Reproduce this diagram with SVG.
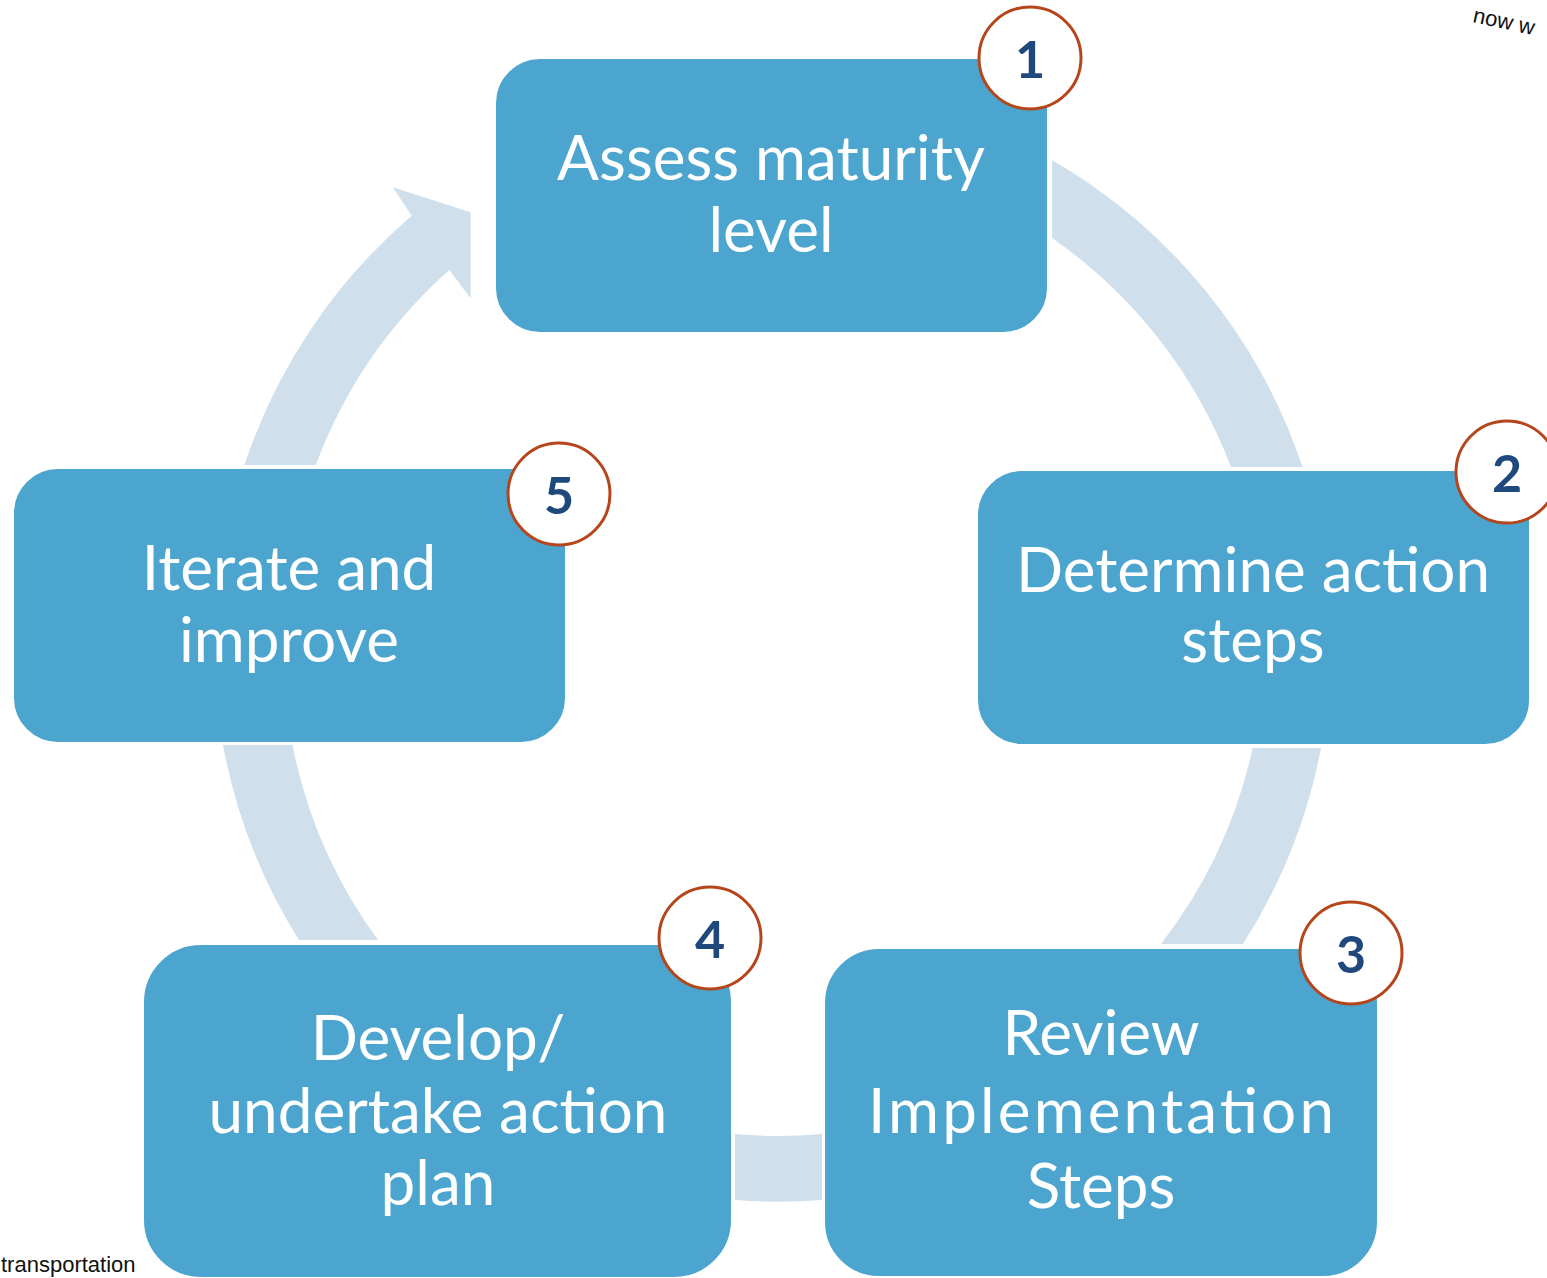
<svg xmlns="http://www.w3.org/2000/svg" width="1547" height="1278" viewBox="0 0 1547 1278">
<style>
.seg{fill:#CFE0EC}
.box{fill:#4BA5CE;stroke:#FFFFFF;stroke-width:2}
.lbl{font-family:Lato,"Liberation Sans",sans-serif;font-size:62px;fill:#FFFFFF;text-anchor:middle}
.badge{fill:#FFFFFF;stroke:#B5451B;stroke-width:3}
.num{font-family:Lato,"Liberation Sans",sans-serif;font-weight:bold;font-size:52px;fill:#1F497D;text-anchor:middle}
.edge{font-family:"Liberation Sans",sans-serif;fill:#111111}
</style>
<rect width="1547" height="1278" fill="#FFFFFF"/>
<g id="connectors">
<path class="seg" d="M1052,160 A558,558 0 0 1 1302.5,467 L1231,467 A491,491 0 0 0 1052,238 Z"/>
<path class="seg" d="M1321,748 A558,558 0 0 1 1243,944 L1161,944 A491,491 0 0 0 1252.6,748 Z"/>
<path class="seg" d="M822,1200 A558,558 0 0 1 735,1200 L735,1134 A491,491 0 0 0 822,1134 Z"/>
<path class="seg" d="M378,940 A491,491 0 0 1 292.5,745 L223,745 A558,558 0 0 0 299,940 Z"/>
<path class="seg" d="M244.5,465 A558,558 0 0 1 411.7,215.7 L392.7,187.3 L470.7,212.3 L470.7,298.3 L449.3,270 A491,491 0 0 0 315.8,465 Z"/>
</g>
<g id="node1">
<rect class="box" x="495" y="58" width="553" height="275" rx="45"/>
<text class="lbl" x="771" y="180">Assess maturity</text>
<text class="lbl" x="771" y="252">level</text>
<circle class="badge" cx="1030" cy="58" r="51"/>
<text class="num" x="1030" y="78">1</text>
</g>
<g id="node2">
<rect class="box" x="977" y="470" width="553" height="275" rx="45"/>
<text class="lbl" x="1253" y="592">Determine action</text>
<text class="lbl" x="1253" y="662">steps</text>
<circle class="badge" cx="1507" cy="472" r="51"/>
<text class="num" x="1507" y="492">2</text>
</g>
<g id="node3">
<rect class="box" x="824" y="948" width="554" height="329" rx="55"/>
<text class="lbl" x="1101" y="1055">Review</text>
<text class="lbl" x="1101" y="1133" textLength="466" lengthAdjust="spacing">Implementation</text>
<text class="lbl" x="1101" y="1208">Steps</text>
<circle class="badge" cx="1351" cy="953" r="51"/>
<text class="num" x="1351" y="973">3</text>
</g>
<g id="node4">
<rect class="box" x="143" y="944" width="589" height="334" rx="58"/>
<text class="lbl" x="438" y="1060">Develop/</text>
<text class="lbl" x="438" y="1133">undertake action</text>
<text class="lbl" x="438" y="1205">plan</text>
<circle class="badge" cx="710" cy="938" r="51"/>
<text class="num" x="710" y="958">4</text>
</g>
<g id="node5">
<rect class="box" x="13" y="468" width="553" height="275" rx="45"/>
<text class="lbl" x="289" y="590">Iterate and</text>
<text class="lbl" x="289" y="662">improve</text>
<circle class="badge" cx="559" cy="494" r="51"/>
<text class="num" x="559" y="514">5</text>
</g>
<text class="edge" x="1" y="1272" font-size="22">transportation</text>
<text class="edge" x="1472" y="22" font-size="22" transform="rotate(12 1472 22)">now w</text>
</svg>
